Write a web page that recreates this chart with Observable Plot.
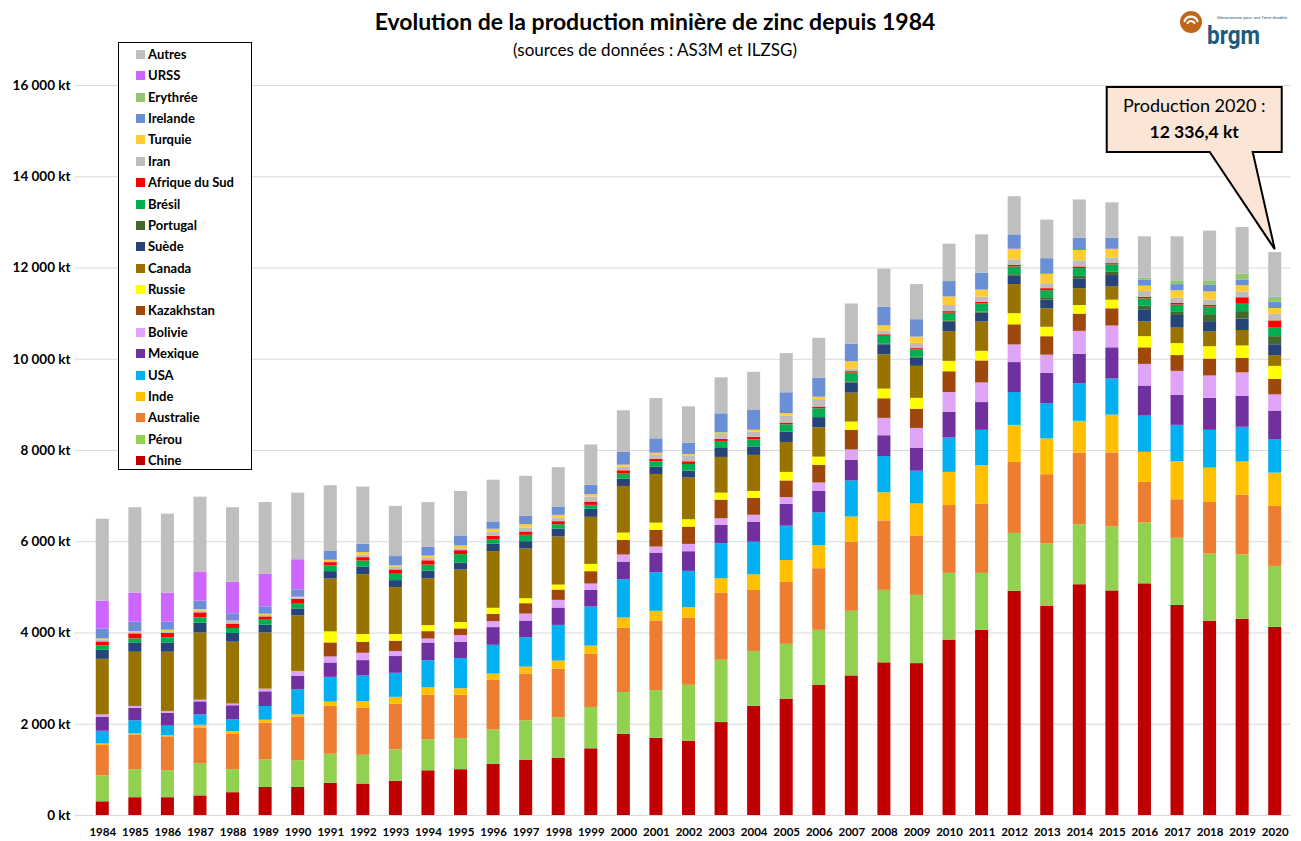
<!DOCTYPE html>
<html>
<head>
<meta charset="utf-8">
<script src="https://cdn.jsdelivr.net/npm/d3@7"></script>
<script src="https://cdn.jsdelivr.net/npm/@observablehq/plot@0.6"></script>
<style>
  body { margin: 0; background: #fff; font-family: Lato, "Open Sans", sans-serif; }
  #page { position: relative; width: 1301px; height: 841px; overflow: hidden; background: #fff; }
  #header { position: relative; height: 64px; }
  #title { position: absolute; left: 0; top: 7px; width: 1301px; box-sizing: border-box; padding-left: 9px;
           text-align: center; font-size: 23px; font-weight: bold; line-height: 28px; color: #000; }
  #subtitle { position: absolute; left: 0; top: 39px; width: 1301px; box-sizing: border-box; padding-left: 9px;
              text-align: center; font-size: 17px; line-height: 22px; color: #000; }
  #legend { position: absolute; left: 118px; top: 42px; width: 132px; height: 426px; border: 1px solid #000; background: #fff; }
  .lrow { position: absolute; left: 0; height: 20px; line-height: 20px; font-size: 13px; font-weight: bold; color: #000; white-space: nowrap; }
  .lsw { position: absolute; left: 17px; top: 6px; width: 9px; height: 9px; }
  .ltx { position: absolute; left: 29px; top: 0; }
  #logo { position: absolute; left: 1175px; top: 4px; }
</style>
</head>
<body>
<div id="page">
  <div id="header">
    <div id="title">Evolution de la production minière de zinc depuis 1984</div>
    <div id="subtitle">(sources de données : AS3M et ILZSG)</div>
  </div>
  <div id="chart"></div>
  <div id="legend"></div>
  <svg id="logo" width="122" height="50">
    <circle cx="16" cy="18" r="11" fill="#C0661A"/>
    <path d="M9.5,17 A7,7 0 0 1 22.5,17" stroke="#fff" stroke-width="2.2" fill="none" stroke-linecap="round"/>
    <path d="M12.5,19 A4,4 0 0 1 19.5,19" stroke="#fff" stroke-width="2" fill="none" stroke-linecap="round"/>
    <text x="32" y="40" font-family="Roboto, sans-serif" font-size="26" font-weight="bold" fill="#1D5B7D" textLength="53" lengthAdjust="spacingAndGlyphs">brgm</text>
    <text x="42" y="14.5" font-family="Roboto, sans-serif" font-size="4.4" fill="#1D5B7D">Géosciences pour une Terre durable</text>
  </svg>
</div>
<script>
// ---- categories ----
const years = [1984,1985,1986,1987,1988,1989,1990,1991,1992,1993,1994,1995,1996,1997,1998,1999,
  2000,2001,2002,2003,2004,2005,2006,2007,2008,2009,2010,2011,2012,2013,2014,2015,2016,2017,2018,2019,2020];

// stacking order, bottom to top
const countries = ["Chine","Pérou","Australie","Inde","USA","Mexique","Bolivie","Kazakhstan","Russie","Canada",
  "Suède","Portugal","Brésil","Afrique du Sud","Iran","Turquie","Irelande","Erythrée","URSS","Autres"];
const colors = ["#C00000","#92D050","#ED7D31","#FFC000","#00B0F0","#7030A0","#DFA3F7","#9E480E","#FFFF00","#997300",
  "#264478","#43682B","#00B050","#FF0000","#BDBDBD","#FFCC33","#6A8FD4","#93C572","#CC66FF","#BFBFBF"];

// ---- series values (kt) ----
const chine = [300,390,390,430,500,615,615,705,690,750,980,1004,1120,1213,1257,1462,1781,1694,1628,2037,2395,2551,2850,3059,3346,3329,3845,4056,4914,4581,5058,4923,5078,4605,4259,4301,4124];
const perou = [565,615,593,705,506,608,586,637,630,689,682,682,753,863,885,906,913,1044,1226,1365,1201,1201,1208,1417,1589,1496,1462,1251,1269,1368,1314,1404,1336,1471,1470,1411,1335];
const australie = [667,763,741,777,770,800,946,1049,1034,997,975,953,1097,1023,1067,1170,1409,1525,1475,1467,1335,1358,1351,1514,1521,1301,1487,1512,1557,1521,1566,1620,887,845,1132,1310,1318];
const inde = [37,29,29,66,59,66,58,95,139,154,161,139,131,154,176,175,226,212,226,321,343,478,507,552,617,702,727,845,810,783,702,828,659,836,752,727,727];
const usa = [278,278,205,227,263,300,550,542,565,527,594,660,629,643,782,856,839,847,796,767,716,753,716,791,794,718,752,778,720,774,819,792,794,794,829,760,726];
const mexique = [308,272,279,286,308,322,293,315,337,367,388,359,388,366,380,365,387,430,431,401,441,477,477,455,456,507,566,608,657,666,648,684,659,660,701,676,634];
const bolivie = [51,44,44,37,37,59,110,132,161,110,88,147,131,153,168,139,154,132,160,146,149,150,179,224,381,431,431,431,387,396,504,477,474,523,490,516,355];
const kazakhstan = [0,0,0,0,0,0,0,308,242,227,162,146,161,227,227,271,321,365,380,409,373,365,388,433,430,422,456,482,441,405,378,378,363,347,372,321,338];
const russie = [0,0,0,0,0,0,0,242,168,146,132,139,132,110,109,160,160,160,160,153,149,187,179,179,212,237,228,211,243,207,189,189,245,262,270,270,287];
const canada = [1217,1187,1297,1473,1356,1231,1217,1158,1313,1027,1026,1151,1242,1089,1053,1031,1022,1066,913,782,791,656,642,634,752,701,651,642,639,405,369,297,321,338,321,338,237];
const suede = [198,205,205,213,191,169,154,162,168,154,168,154,161,161,175,176,161,161,153,196,186,224,224,216,219,178,203,194,180,189,216,243,270,279,228,254,237];
const portugal = [0,0,0,0,0,0,0,0,0,0,0,0,0,0,0,0,0,0,0,0,0,0,0,30,20,20,33,26,36,54,54,72,76,67,153,160,177];
const bresil = [95,88,110,117,110,110,117,124,132,139,132,183,102,138,95,87,110,117,146,154,157,164,194,194,166,166,169,177,171,153,171,162,161,161,169,161,186];
const afriqueSud = [88,110,96,110,95,73,95,73,73,95,95,88,73,74,66,73,73,51,59,44,52,37,37,30,34,25,34,34,36,45,36,27,34,34,34,143,160];
const iran = [37,25,40,40,36,33,22,26,52,58,52,44,88,87,73,110,80,102,116,109,119,157,164,52,76,118,135,118,117,108,135,126,127,118,118,127,144];
const turquie = [29,27,33,33,30,26,22,26,58,30,51,59,66,73,66,51,44,36,44,36,38,52,52,164,119,135,186,152,234,207,225,189,118,160,177,135,127];
const irelande = [213,205,176,184,161,161,162,205,184,205,191,220,161,183,183,205,277,314,248,417,432,455,418,388,405,381,338,372,315,342,270,243,127,136,144,119,135];
const erythree = [0,0,0,0,0,0,0,0,0,0,0,0,0,0,0,0,0,0,0,0,0,0,0,0,0,0,0,0,0,0,0,0,50,84,101,135,110];
const urss = [616,637,637,637,689,711,659,0,0,0,0,0,0,0,0,0,0,0,0,0,0,0,0,0,0,0,0,0,0,0,0,0,0,0,0,0,0];
const autres = [1795,1870,1730,1642,1635,1576,1459,1429,1253,1100,982,975,914,877,862,884,913,884,796,788,836,858,873,880,837,769,820,837,837,846,837,774,904,963,1090,1022,979.4];

// ---- tick labels ----
const yTicks = [0,2000,4000,6000,8000,10000,12000,14000,16000];

// ---- table built from the arrays ----
const seriesValues = [chine,perou,australie,inde,usa,mexique,bolivie,kazakhstan,russie,canada,
  suede,portugal,bresil,afriqueSud,iran,turquie,irelande,erythree,urss,autres];
const data = [];
countries.forEach((c, i) => {
  seriesValues[i].forEach((v, j) => { if (v > 0) data.push({year: years[j], country: c, value: v}); });
});

const fr = d3.formatLocale({decimal: ",", thousands: "\u00a0", grouping: [3], currency: ["", " €"]});
const fmtKt = d => fr.format(",")(d) + " kt";

const chart = Plot.plot({
  width: 1301,
  height: 777,
  marginTop: 21,
  marginBottom: 26,
  marginLeft: 75,
  marginRight: 10,
  style: {fontFamily: "Lato, 'Open Sans', sans-serif", fontWeight: "bold", background: "white", color: "#000", overflow: "visible"},
  x: {type: "band", domain: years, paddingInner: 0.6, paddingOuter: 0.3, insetLeft: 11, round: false, label: null},
  y: {domain: [0, 16000], label: null},
  color: {domain: countries, range: colors},
  marks: [
    Plot.ruleY(yTicks, {stroke: "#d9d9d9", strokeWidth: 1}),
    Plot.barY(data, {x: "year", y: "value", fill: "country"}),
    Plot.axisY({ticks: yTicks, tickSize: 0, tickPadding: 5, tickFormat: fmtKt, fontSize: 13.5, fontWeight: "bold", label: null}),
    Plot.axisX({tickSize: 0, tickPadding: 12, tickFormat: d => String(d), fontSize: 11.5, fontWeight: "bold", label: null})
  ]
});
document.getElementById("chart").appendChild(chart);

// ---- callout for the last year ----
const lastIdx = years.length - 1;
const lastYear = years[lastIdx];
const total = Math.round(seriesValues.reduce((s, arr) => s + arr[lastIdx], 0) * 10) / 10;
const xs = chart.scale("x"), ys = chart.scale("y");
const tipX = xs.apply(lastYear) + xs.bandwidth / 2;
const tipY = ys.apply(total) - 3;
const x0 = tipX - 168, x1 = tipX + 7;
const y0 = ys.apply(16000) + 2, y1 = y0 + 65;
const b1 = tipX - 65, b2 = tipX - 22;
const svg = d3.select(chart);
const g = svg.append("g");
g.append("path")
  .attr("d", `M${x0},${y0}H${x1}V${y1}H${b2}L${tipX},${tipY}L${b1},${y1}H${x0}Z`)
  .attr("fill", "#FBE5D6").attr("stroke", "#000").attr("stroke-width", 2).attr("stroke-linejoin", "miter");
g.append("text").attr("x", (x0 + x1) / 2).attr("y", y0 + 25).attr("text-anchor", "middle")
  .attr("font-size", 18).attr("font-weight", "normal").attr("fill", "#000").text(`Production ${lastYear} :`);
g.append("text").attr("x", (x0 + x1) / 2).attr("y", y0 + 50.5).attr("text-anchor", "middle")
  .attr("font-size", 17.5).attr("font-weight", "bold").attr("fill", "#000").text(fr.format(",.1f")(total) + " kt");

// ---- legend (top = last of the stack) ----
const legend = document.getElementById("legend");
const rowStep = 21.37;
countries.slice().reverse().forEach((c, i) => {
  const row = document.createElement("div");
  row.className = "lrow";
  row.style.top = (1 + i * rowStep) + "px";
  const sw = document.createElement("span");
  sw.className = "lsw";
  sw.style.background = colors[countries.indexOf(c)];
  const tx = document.createElement("span");
  tx.className = "ltx";
  tx.textContent = c;
  row.appendChild(sw); row.appendChild(tx);
  legend.appendChild(row);
});
</script>
</body>
</html>
